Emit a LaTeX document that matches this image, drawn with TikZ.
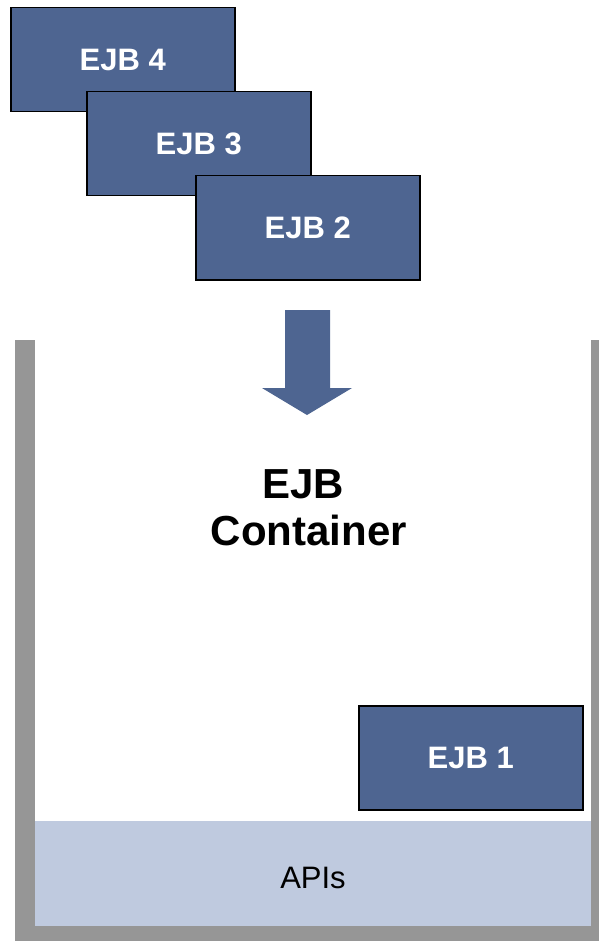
\documentclass[tikz,border=0pt]{standalone}
\usepackage{fontspec}
\setmainfont{Liberation Sans}
\definecolor{ejbblue}{HTML}{4E6591}
\definecolor{apiblue}{HTML}{BFCADF}
\definecolor{wallgray}{HTML}{969696}
\begin{document}
\begin{tikzpicture}[x=1pt,y=-1pt,
  ejbbox/.style={draw=black,line width=1.5pt,fill=ejbblue,text=white,
    font=\fontsize{31}{35}\selectfont\bfseries,
    minimum width=224pt,minimum height=104pt,inner sep=0pt,anchor=north west},
  wall/.style={fill=wallgray,draw=none}]
\useasboundingbox (0,0) rectangle (599,941);

% beans waiting to be deployed
\node[ejbbox] (ejb4) at (10,7) {EJB 4};
\node[ejbbox] (ejb3) at (86,91) {EJB 3};
\node[ejbbox] (ejb2) at (195,175) {EJB 2};

% deployment arrow
\fill[ejbblue] (285,310) -- (330,310) -- (330,388) -- (352,388) -- (307,415)
  -- (262,388) -- (285,388) -- cycle;

% container walls
\fill[wall] (15,340) rectangle (35,941);
\fill[wall] (591,340) rectangle (599,941);
\fill[wall] (15,926) rectangle (599,941);

% API layer at the bottom of the container
\fill[apiblue] (35,821) rectangle (591,926);
\node[font=\fontsize{31}{35}\selectfont,inner sep=0pt] (apis) at (313,878) {APIs};

\node[align=center,inner sep=0pt,font=\fontsize{42}{47}\selectfont\bfseries]
  (container) at (309,508) {EJB\kern0.28em\\Container};

% deployed bean
\node[ejbbox] (ejb1) at (358,705) {EJB 1};
\end{tikzpicture}
\end{document}
